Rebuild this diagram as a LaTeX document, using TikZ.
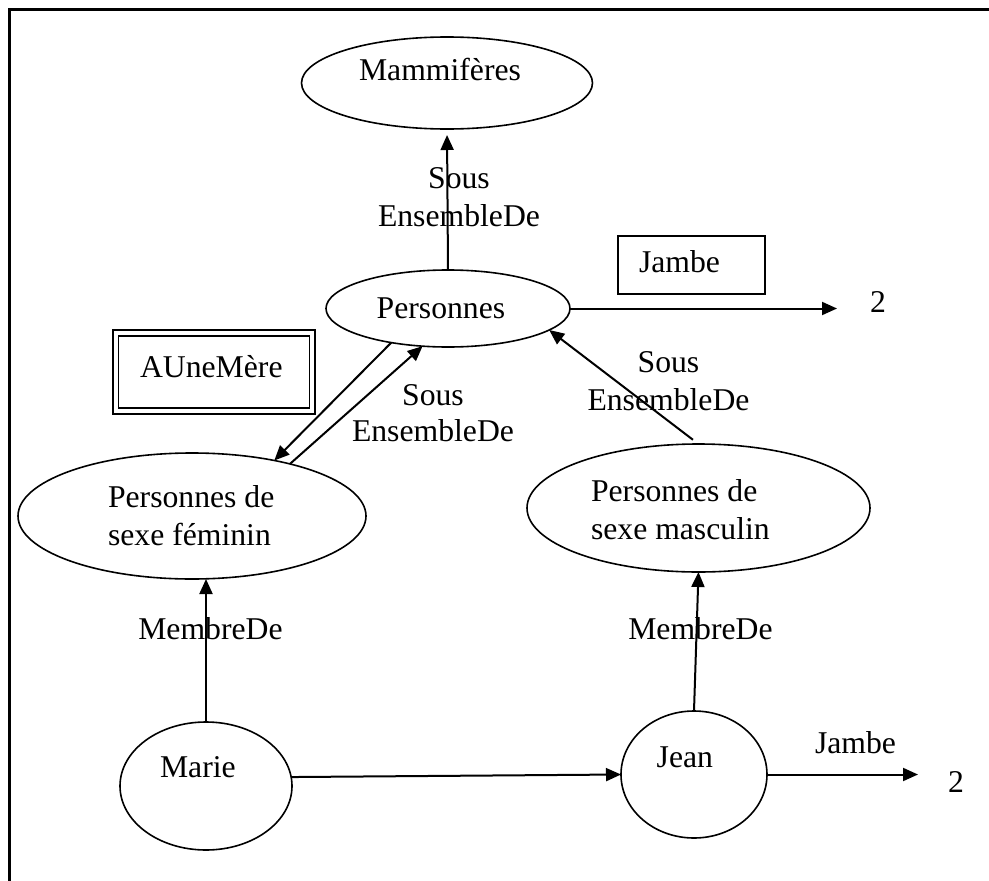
\documentclass[tikz,border=0pt]{standalone}
\usepackage{fontspec}
\setmainfont{Liberation Serif}
\usetikzlibrary{arrows.meta,shapes.geometric}
\begin{document}
\begin{tikzpicture}[x=1pt,y=-1pt,
  every node/.style={font=\fontsize{31.7}{38}\selectfont, inner sep=0pt, outer sep=0pt},
  ell/.style={draw, ellipse, line width=1.6pt},
  txt/.style={anchor=base},
  txtl/.style={anchor=base west},
  arr/.style={line width=2pt, -{Triangle[length=15pt,width=13pt]}},
  box/.style={draw, rectangle, line width=1.6pt},
  dbox/.style={draw, rectangle, line width=1.6pt, double, double distance=4pt}]
\useasboundingbox (0,0) rectangle (989,881);
% open frame: top and left sides
\draw[line width=2.2pt] (9.5,881) -- (9.5,9.5) -- (989,9.5);

% concept ellipses
\node[ell, minimum width=291pt, minimum height=92pt] (mamm) at (447,83) {};
\node[txtl] (mammt) at (359,80) {Mammifères};

\node[ell, minimum width=244pt, minimum height=77pt] (pers) at (448,308.5) {};
\node[txtl] (perst) at (376.7,318) {Personnes};

\node[ell, minimum width=348pt, minimum height=126pt] (fem) at (192,516) {};
\node[txtl] (fema) at (108,507) {Personnes de};
\node[txtl] (femb) at (108,545) {sexe féminin};

\node[ell, minimum width=343pt, minimum height=128pt] (masc) at (698.5,508) {};
\node[txtl] (masca) at (591,501) {Personnes de};
\node[txtl] (mascb) at (591,539) {sexe masculin};

\node[ell, minimum width=172pt, minimum height=128pt] (marie) at (206,786) {};
\node[txtl] (mariet) at (160,777) {Marie};

\node[ell, minimum width=146pt, minimum height=127pt] (jean) at (694,774.5) {};
\node[txtl] (jeant) at (656.7,767) {Jean};

% relation boxes
\node[box, minimum width=147pt, minimum height=58pt, anchor=north west] (jbox) at (618,236) {};
\node[txtl] (jboxt) at (639,272) {Jambe};

\node[dbox, minimum width=196.7pt, minimum height=78.1pt] (mere) at (213.85,371.95) {};
\node[txtl] (meret) at (140,377) {AUneMère};

% values
\node[txtl] (two1) at (870,312.7) {2};
\node[txtl] (two2) at (948,792.7) {2};

% edge labels
\node[txt] (sA1) at (459,188) {Sous};
\node[txt] (sA2) at (459,226) {EnsembleDe};
\node[txt] (sB1) at (433,405) {Sous};
\node[txt] (sB2) at (433,441) {EnsembleDe};
\node[txt] (sC1) at (668.5,372) {Sous};
\node[txt] (sC2) at (668.5,410) {EnsembleDe};
\node[txtl] (mbA) at (138.3,639.3) {MembreDe};
\node[txtl] (mbB) at (628.3,639.3) {MembreDe};
\node[txtl] (jb) at (815,753.3) {Jambe};

% connectors
\draw[arr, shorten >=6pt] (pers.north) -- (mamm.south);
\draw[arr, shorten >=33pt] (pers.east) -- (pers.east -| two1.west);
\draw[arr] (pers.211) -- (fem.34);
\draw[arr] (fem.28) -- (pers.236);
\draw[arr, shorten <=7pt] (masc.north) -- (pers.-12);
\draw[arr] (marie.north) -- (marie.north |- fem.south);
\draw[arr] (jean.north) -- (masc.south);
\draw[arr] (marie.6) -- (jean.west);
\draw[arr, shorten >=30pt] (jean.east) -- (jean.east -| two2.west);
\end{tikzpicture}
\end{document}
